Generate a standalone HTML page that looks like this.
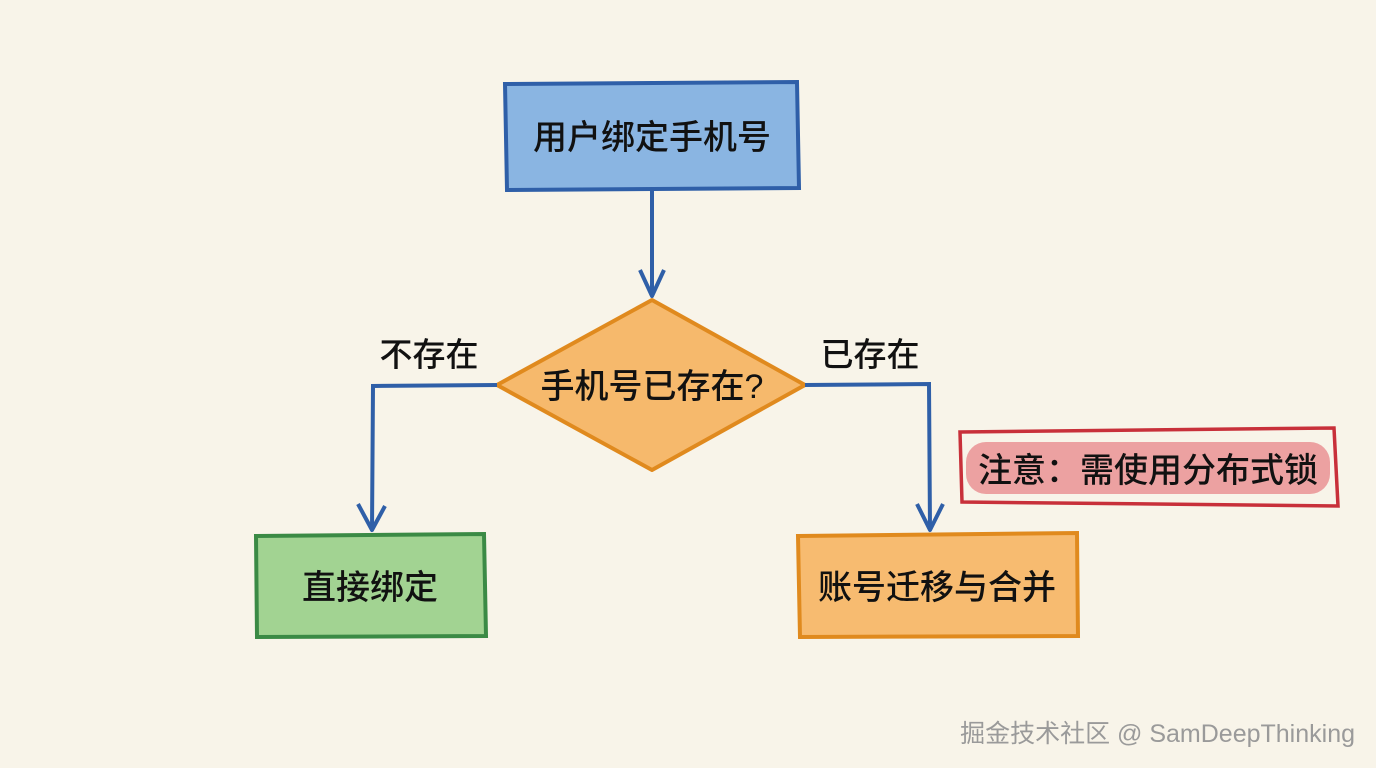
<!DOCTYPE html>
<html><head><meta charset="utf-8"><style>
html,body{margin:0;padding:0;background:#f8f4e9;}
svg{display:block}
text{font-family:"Liberation Sans","Noto Sans CJK SC",sans-serif;fill:#111;font-weight:500;}
</style></head><body>
<svg width="1376" height="768" viewBox="0 0 1376 768">
<rect width="1376" height="768" fill="#f8f4e9"/>
<rect x="507" y="84" width="292" height="104" fill="#8ab5e2"/>
<path d="M505 84 L797 82 L799 188 L507 190 Z" fill="none" stroke="#2f5fa8" stroke-width="4"/>
<text x="652" y="149" font-size="34" text-anchor="middle">用户绑定手机号</text>
<path d="M652 190 L652 296" stroke="#2f5fa8" stroke-width="4" fill="none"/>
<path d="M640 270 L652 296 L664 270" stroke="#2f5fa8" stroke-width="4" fill="none" stroke-linejoin="round"/>
<path d="M652 300 L805 385 L652 470 L497 385 Z" fill="#f6b96c" stroke="#e08a1e" stroke-width="4" stroke-linejoin="round"/>
<text x="652" y="398" font-size="34" text-anchor="middle">手机号已存在?</text>
<path d="M497 385 L373 386 L372 530" stroke="#2f5fa8" stroke-width="4" fill="none"/>
<path d="M358 504 L372 530 L385 506" stroke="#2f5fa8" stroke-width="4" fill="none" stroke-linejoin="round"/>
<text x="429" y="366" font-size="33" text-anchor="middle">不存在</text>
<path d="M805 385 L929 384 L930 530" stroke="#2f5fa8" stroke-width="4" fill="none"/>
<path d="M917 504 L930 530 L943 504" stroke="#2f5fa8" stroke-width="4" fill="none" stroke-linejoin="round"/>
<text x="870" y="366" font-size="33" text-anchor="middle">已存在</text>
<rect x="257" y="535" width="228" height="100" fill="#a2d392"/>
<path d="M256 536 L484 534 L486 636 L257 637 Z" fill="none" stroke="#3b8a45" stroke-width="4"/>
<text x="370" y="599" font-size="34" text-anchor="middle">直接绑定</text>
<rect x="799" y="535" width="278" height="100" fill="#f7bb70"/>
<path d="M798 536 L1077 533 L1078 636 L800 637 Z" fill="none" stroke="#e08a1e" stroke-width="4"/>
<text x="937" y="599" font-size="34" text-anchor="middle">账号迁移与合并</text>
<rect x="966" y="442" width="364" height="52" rx="20" fill="#eca1a1"/>
<path d="M960 432 L1334 428 L1338 506 L962 502 Z" fill="none" stroke="#c8303a" stroke-width="3.5"/>
<text x="1148" y="482" font-size="34" text-anchor="middle">注意：需使用分布式锁</text>
<text x="1355" y="742" font-size="25" text-anchor="end" style="fill:#9a9a9a;font-weight:400">掘金技术社区 @ SamDeepThinking</text>
</svg>
</body></html>
